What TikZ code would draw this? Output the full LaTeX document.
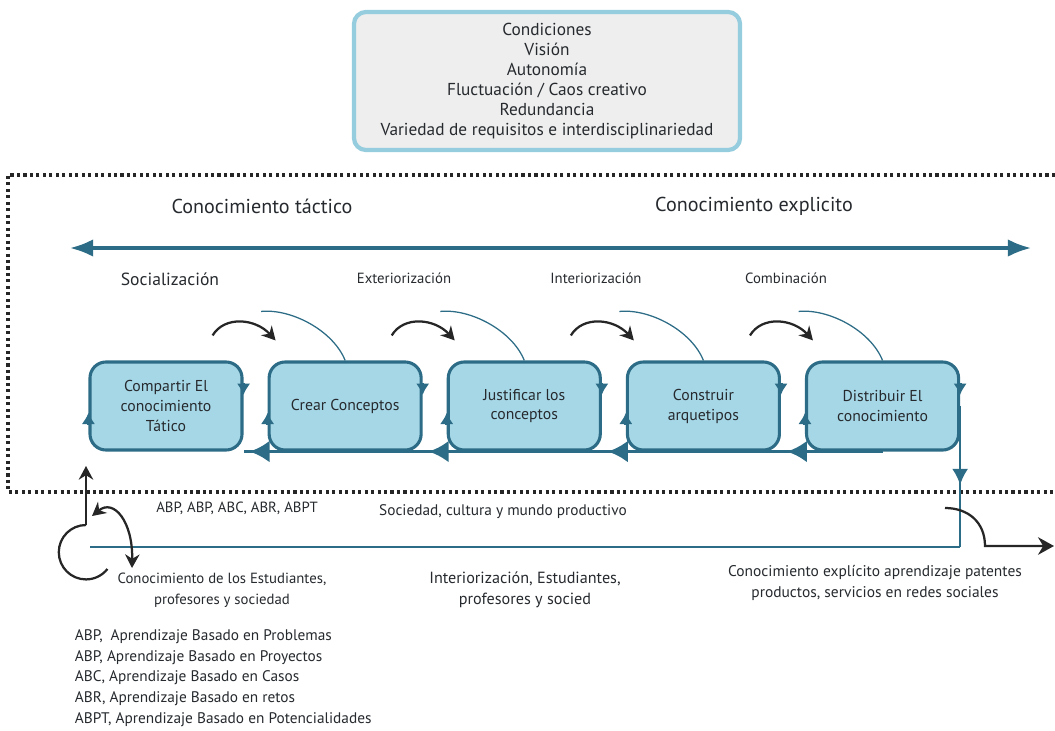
\documentclass[tikz,border=0pt]{standalone}
\usepackage{fontspec}
\setmainfont{PT Sans}
\usepackage{tikz}
\usetikzlibrary{positioning}
\usetikzlibrary{arrows.meta, calc, decorations.markings}

\definecolor{petroleo}{RGB}{45,108,134}
\definecolor{celeste}{RGB}{166,215,230}
\definecolor{bordeceleste}{RGB}{150,205,222}
\definecolor{grisclaro}{RGB}{238,238,238}
\definecolor{texto}{RGB}{38,42,46}

\tikzstyle{etapa} = [draw = petroleo, fill = celeste, line width = 2.2pt, rounded corners = 0.4cm, minimum width = 3.8cm, minimum height = 2.2cm, align = center, font = \fontsize{11.2}{14.2}\selectfont]
\tikzstyle{flecha} = [black!85, line width = 1.6pt, -{Stealth[length = 3.4mm, width = 3.6mm]}]
\tikzstyle{curva} = [petroleo, line width = 0.9pt]
\tikzstyle{base} = [petroleo, line width = 2.6pt, postaction = {decorate}, decoration = {markings, mark = at position -0.15cm with {\arrow{Latex[length = 5mm, width = 5.5mm]}}}]
\tikzstyle{lado} = [petroleo, line width = 2.2pt, -{Latex[length = 2.8mm, width = 3.4mm]}]
\tikzstyle{linea} = [petroleo, line width = 1.8pt]

\begin{document}
\begin{tikzpicture}[
			x = 0.025cm, y = -0.025cm,
			every node/.style = {text = texto, font = \fontsize{10.5}{14.7}\selectfont},
			node distance = 0.6cm
		]
		\useasboundingbox (0,0) rectangle (1055,731);

		% Condiciones
		\node[draw = bordeceleste, fill = grisclaro, line width = 3pt, rounded corners = 0.3cm, minimum width = 9.65cm, minimum height = 3.45cm, align = center, font = \fontsize{12.3}{14.2}\selectfont] (condiciones) at (547,81)
			{Condiciones\\Visión\\Autonomía\\Fluctuación / Caos creativo\\Redundancia\\Variedad de requisitos e interdisciplinariedad};

		% Marco punteado
		\draw[black!85, line width = 2.2pt, dash pattern = on 2.2pt off 2.4pt] (1055,175) -- (8,175) -- (8,492) -- (1055,492);

		% Eje tactico - explicito
		\coordinate (izq) at (70,248);
		\coordinate (der) at (1031,248);
		\draw[petroleo, line width = 2.2pt, {Latex[length = 5.8mm, width = 4.4mm]}-{Latex[length = 5.8mm, width = 4.4mm]}] (izq) -- (der);

		\node[font = \fontsize{14.3}{16}\selectfont] (tactico) at (262,206) {Conocimiento táctico};
		\node[font = \fontsize{14.3}{16}\selectfont] (explicito) at (754,206) {Conocimiento explicito};

		\node[font = \fontsize{12.5}{14}\selectfont] (socializacion) at (170,279) {Socialización};
		\node (exteriorizacion) at (404,278) {Exteriorización};
		\node (interiorizacion) at (596,278) {Interiorización};
		\node (combinacion) at (786,278) {Combinación};

		% Etapas
		\node[etapa] (compartir) at (166,406) {Compartir El\\conocimiento\\Tático};
		\node[etapa, right = of compartir] (crear) {Crear Conceptos};
		\node[etapa, right = of crear] (justificar) {Justificar los\\conceptos};
		\node[etapa, right = of justificar] (construir) {Construir\\arquetipos};
		\node[etapa, right = of construir] (distribuir) {Distribuir El\\conocimiento};

		\foreach \e in {compartir, crear, justificar, construir, distribuir} {
			\draw[lado] ([yshift = 0.58cm]\e.east) -- ([yshift = 0.28cm]\e.east);
			\draw[lado] ([yshift = -0.47cm]\e.west) -- ([yshift = -0.17cm]\e.west);
		}
		\foreach \a/\b in {crear.south east/compartir, justificar.south east/crear, construir.south east/justificar, distribuir.south/construir}
			\draw[base] (\a) -- (\b.south east);

		% Arcos entre etapas
		\foreach \e in {crear, justificar, construir, distribuir} {
			\draw[flecha] ([shift = {(-55,-25)}]\e.north west) .. controls +(12,-20) and +(-20,-22) .. ([shift = {(8,-20)}]\e.north west);
			\draw[curva] ([shift = {(-84,-49)}]\e.north) .. controls +(30,-3) and +(-12,-30) .. (\e.north);
		}

		% Salida y retorno
		\coordinate (inicio) at (90,547);
		\coordinate (esquina) at (distribuir.east |- inicio);
		\draw[linea, postaction = {decorate}, decoration = {markings, mark = at position 0.56 with {\arrow{Latex[length = 4mm, width = 4mm]}}}] (distribuir.east) -- (esquina);
		\draw[linea] (esquina) -- (inicio);

		\coordinate (rama) at (945,508);
		\coordinate (salida) at (1054,546);
		\draw[flecha, -{Stealth[length = 4mm, width = 4.4mm]}] (rama) .. controls (968,508) and (985,522) .. (985,546) -- (salida);

		\coordinate (raiz) at (86,525);
		\coordinate (punta) at (86,466);
		\draw[flecha] (raiz) -- (punta);
		\draw[black!85, line width = 1.6pt] (raiz) arc[start angle = 90, end angle = 322, radius = 0.68cm];
		\coordinate (giro) at (92,516);
		\coordinate (baja) at (132,568);
		\draw[flecha, {Stealth[length = 3.4mm, width = 3.6mm]}-{Stealth[length = 3.4mm, width = 3.6mm]}] (giro) .. controls (114,498) and (133,522) .. (baja);

		% Textos inferiores
		\node (siglas) at (237,508) {ABP, ABP, ABC, ABR, ABPT};
		\node[font = \fontsize{10.9}{14.7}\selectfont] (sociedad) at (503,512) {Sociedad, cultura y mundo productivo};
		\node[align = center] (estudiantes) at (222,590) {Conocimiento de los Estudiantes,\\profesores y sociedad};
		\node[align = center, font = \fontsize{11.5}{14.7}\selectfont] (interior) at (525,590) {Interiorización, Estudiantes,\\profesores y socied};
		\node[align = center, font = \fontsize{11}{14.7}\selectfont] (aprendizaje) at (875,583) {Conocimiento explícito aprendizaje patentes\\productos, servicios en redes sociales};
		\node[align = left, anchor = west, font = \fontsize{10.9}{14.7}\selectfont] (glosario) at (70,678)
			{ABP,\enspace Aprendizaje Basado en Problemas\\ABP, Aprendizaje Basado en Proyectos\\ABC, Aprendizaje Basado en Casos\\ABR, Aprendizaje Basado en retos\\ABPT, Aprendizaje Basado en Potencialidades};
\end{tikzpicture}
\end{document}
